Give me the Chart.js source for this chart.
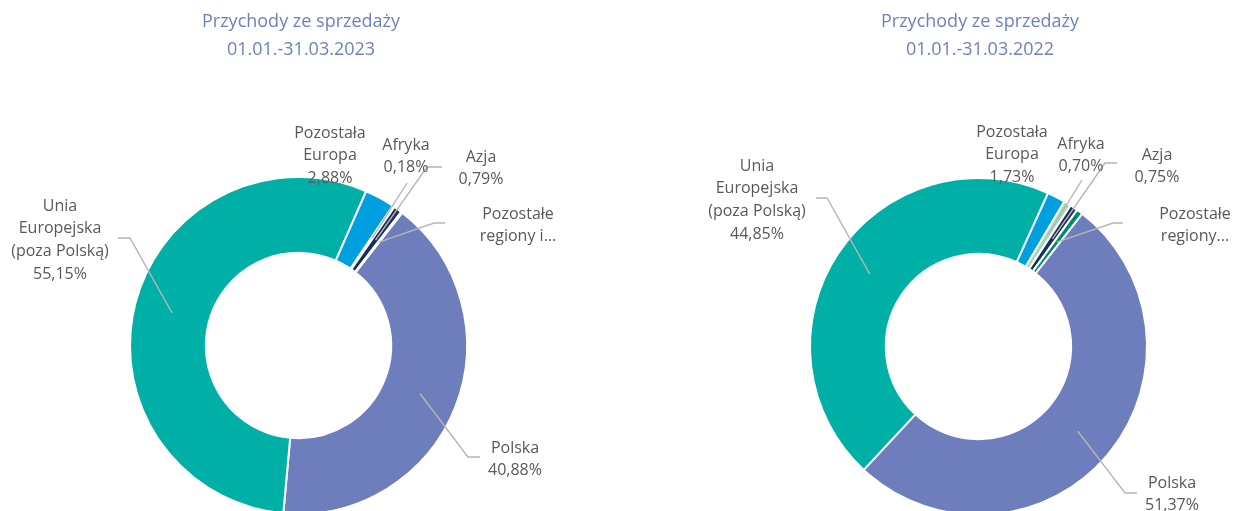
<!DOCTYPE html>
<html lang="pl">
<head>
<meta charset="utf-8">
<title>Przychody ze sprzedaży</title>
<script src="https://cdn.jsdelivr.net/npm/chart.js@4.4.1/dist/chart.umd.min.js"></script>
<style>
  html, body { margin: 0; padding: 0; background: #fff; overflow: hidden; }
  .wrap { position: relative; width: 1235px; height: 511px; overflow: hidden; }
  canvas { position: absolute; top: 0; }
  #chart2023 { left: 0; }
  #chart2022 { left: 617px; }
</style>
</head>
<body>
<div class="wrap">
  <canvas id="chart2023" width="617" height="540"></canvas>
  <canvas id="chart2022" width="618" height="540"></canvas>
</div>
<script>
// data (percent of sales revenue by region)
const categories = ["Polska", "Unia Europejska (poza Polską)", "Pozostała Europa", "Afryka", "Azja", "Pozostałe regiony"];
const values2023 = [40.88, 55.15, 2.88, 0.18, 0.79, 0.12];
const values2022 = [51.37, 44.85, 1.73, 0.70, 0.75, 0.60];

const labelLines2023 = [["Polska"], ["Unia", "Europejska", "(poza Polską)"], ["Pozostała", "Europa"], ["Afryka"], ["Azja"], ["Pozostałe", "regiony i..."]];
const labelLines2022 = [["Polska"], ["Unia", "Europejska", "(poza Polską)"], ["Pozostała", "Europa"], ["Afryka"], ["Azja"], ["Pozostałe", "regiony..."]];
const showValue = [true, true, true, true, true, false];

const titles2023 = ["Przychody ze sprzedaży", "01.01.-31.03.2023"];
const titles2022 = ["Przychody ze sprzedaży", "01.01.-31.03.2022"];

const colors = ["#6E7DBB", "#00B0A6", "#009FDF", "#A2D8B2", "#1B2D5C", "#00896B"];

// label layout, page px: text centre x / first line y, then leader elbow (+ end)
const labelPos2023 = [[515, 448], [60, 206], [330, 133], [406, 145], [481, 157], [518, 214]];
const leader2023 = [[[468, 457], [480, 457]], [[130, 238], [118, 238]], null, [[407, 183]], [[427, 167], [442, 167]], [[434, 223], [445, 223]]];
const labelPos2022 = [[1172, 483], [757, 166], [1012, 132], [1081, 144], [1157, 155], [1195, 214]];
const leader2022 = [[[1125, 493], [1137, 493]], [[827, 198], [816, 198]], null, [[1082, 180]], [[1105, 163], [1117, 163]], [[1113, 223], [1123, 223]]];

const fmt = (v) => v.toFixed(2).replace(".", ",") + "%";

function makeLabelPlugin(cfg) {
  return {
    id: "pieLabels",
    afterDraw(chart) {
      const ctx = chart.ctx;
      const ox = cfg.offsetX;
      const arcs = chart.getDatasetMeta(0).data;
      ctx.save();

      // titles
      ctx.fillStyle = "#6F7FBE";
      ctx.font = "18px 'Open Sans'";
      ctx.textAlign = "center";
      ctx.textBaseline = "middle";
      cfg.titles.forEach((t, i) => ctx.fillText(t, cfg.titleX - ox, 22 + i * 28));

      // leader lines
      ctx.strokeStyle = "#B5B5B5";
      ctx.lineWidth = 1.4;
      arcs.forEach((arc, i) => {
        const pts = cfg.leaders[i];
        if (!pts) return;
        const c = arc.getCenterPoint();
        ctx.beginPath();
        ctx.moveTo(c.x, c.y);
        pts.forEach((p) => ctx.lineTo(p[0] - ox, p[1]));
        ctx.stroke();
      });

      // labels
      ctx.fillStyle = "#595959";
      ctx.font = "16px 'Open Sans'";
      arcs.forEach((arc, i) => {
        const lines = cfg.lines[i].slice();
        if (showValue[i]) lines.push(fmt(cfg.values[i]));
        const [x, y] = cfg.pos[i];
        lines.forEach((l, k) => ctx.fillText(l, x - ox, y + k * 22.8));
      });
      ctx.restore();
    }
  };
}

function makeChart(id, values, cfg, padding) {
  return new Chart(document.getElementById(id), {
    type: "doughnut",
    data: {
      labels: categories,
      datasets: [{
        data: values,
        backgroundColor: colors,
        borderColor: "#FFFFFF",
        borderWidth: 2,
        hoverOffset: 0
      }]
    },
    options: {
      responsive: false,
      animation: false,
      rotation: 38,
      cutout: "55%",
      layout: { padding: padding },
      plugins: {
        legend: { display: false },
        title: { display: false },
        tooltip: { enabled: false }
      }
    },
    plugins: [makeLabelPlugin(cfg)]
  });
}

makeChart("chart2023", values2023, {
  offsetX: 0, titleX: 301, titles: titles2023, values: values2023,
  lines: labelLines2023, pos: labelPos2023, leaders: leader2023
}, { top: 176, bottom: 25, left: 129, right: 149 });

makeChart("chart2022", values2022, {
  offsetX: 617, titleX: 980, titles: titles2022, values: values2022,
  lines: labelLines2022, pos: labelPos2022, leaders: leader2022
}, { top: 177, bottom: 24, left: 192, right: 87 });
</script>
</body>
</html>
